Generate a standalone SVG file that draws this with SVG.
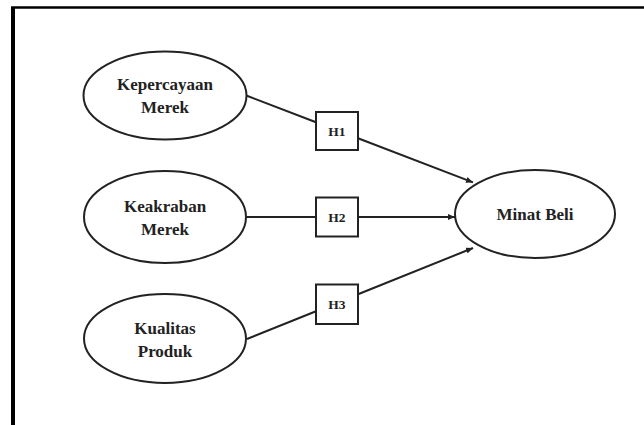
<svg xmlns="http://www.w3.org/2000/svg" width="644" height="425" viewBox="0 0 644 425">
<style>
.node ellipse{fill:#fff;stroke:#222;stroke-width:2}
.box rect{fill:#fff;stroke:#222;stroke-width:2}
.lbl{font-family:"Liberation Serif","Times New Roman",serif;font-weight:bold;font-size:17px;fill:#222;text-anchor:middle}
.hl{font-family:"Liberation Serif","Times New Roman",serif;font-weight:bold;font-size:13.5px;fill:#222;text-anchor:middle}
.conn line{stroke:#222;stroke-width:2}
</style>
<defs>
<marker id="arr" markerUnits="userSpaceOnUse" markerWidth="7" markerHeight="6" refX="7" refY="3" orient="auto">
<path d="M0,0 L7,3 L0,6 z" fill="#222"/>
</marker>
</defs>
<rect width="644" height="425" fill="#fff"/>
<g id="frame">
<line x1="11" y1="7.5" x2="644" y2="7.5" stroke="#000" stroke-width="2.5"/>
<line x1="13" y1="7" x2="13" y2="425" stroke="#000" stroke-width="4"/>
</g>
<g id="connectors" class="conn">
<line x1="245" y1="95" x2="316" y2="122.2"/>
<line x1="358" y1="138.3" x2="473" y2="182.4" marker-end="url(#arr)"/>
<line x1="246" y1="217" x2="316" y2="217"/>
<line x1="358" y1="217" x2="455" y2="217" marker-end="url(#arr)"/>
<line x1="247" y1="339" x2="316" y2="311.2"/>
<line x1="358" y1="294.3" x2="473" y2="248" marker-end="url(#arr)"/>
</g>
<g id="kepercayaan-merek" class="node">
<ellipse cx="165" cy="95.5" rx="81.5" ry="44"/>
<text class="lbl" x="165" y="90">Kepercayaan</text>
<text class="lbl" x="165" y="113">Merek</text>
</g>
<g id="keakraban-merek" class="node">
<ellipse cx="165" cy="217" rx="81" ry="46"/>
<text class="lbl" x="165" y="211.5">Keakraban</text>
<text class="lbl" x="165" y="234.5">Merek</text>
</g>
<g id="kualitas-produk" class="node">
<ellipse cx="165" cy="338.5" rx="81" ry="44.5"/>
<text class="lbl" x="165" y="334">Kualitas</text>
<text class="lbl" x="165" y="356.5">Produk</text>
</g>
<g id="minat-beli" class="node">
<ellipse cx="535" cy="214" rx="80" ry="44"/>
<text class="lbl" x="535" y="220">Minat Beli</text>
</g>
<g id="h1" class="box">
<rect x="316" y="112" width="42" height="38"/>
<text class="hl" x="337" y="136">H1</text>
</g>
<g id="h2" class="box">
<rect x="316" y="197.5" width="42" height="39"/>
<text class="hl" x="337" y="222">H2</text>
</g>
<g id="h3" class="box">
<rect x="316" y="284.5" width="42" height="39.5"/>
<text class="hl" x="337" y="309">H3</text>
</g>
</svg>
